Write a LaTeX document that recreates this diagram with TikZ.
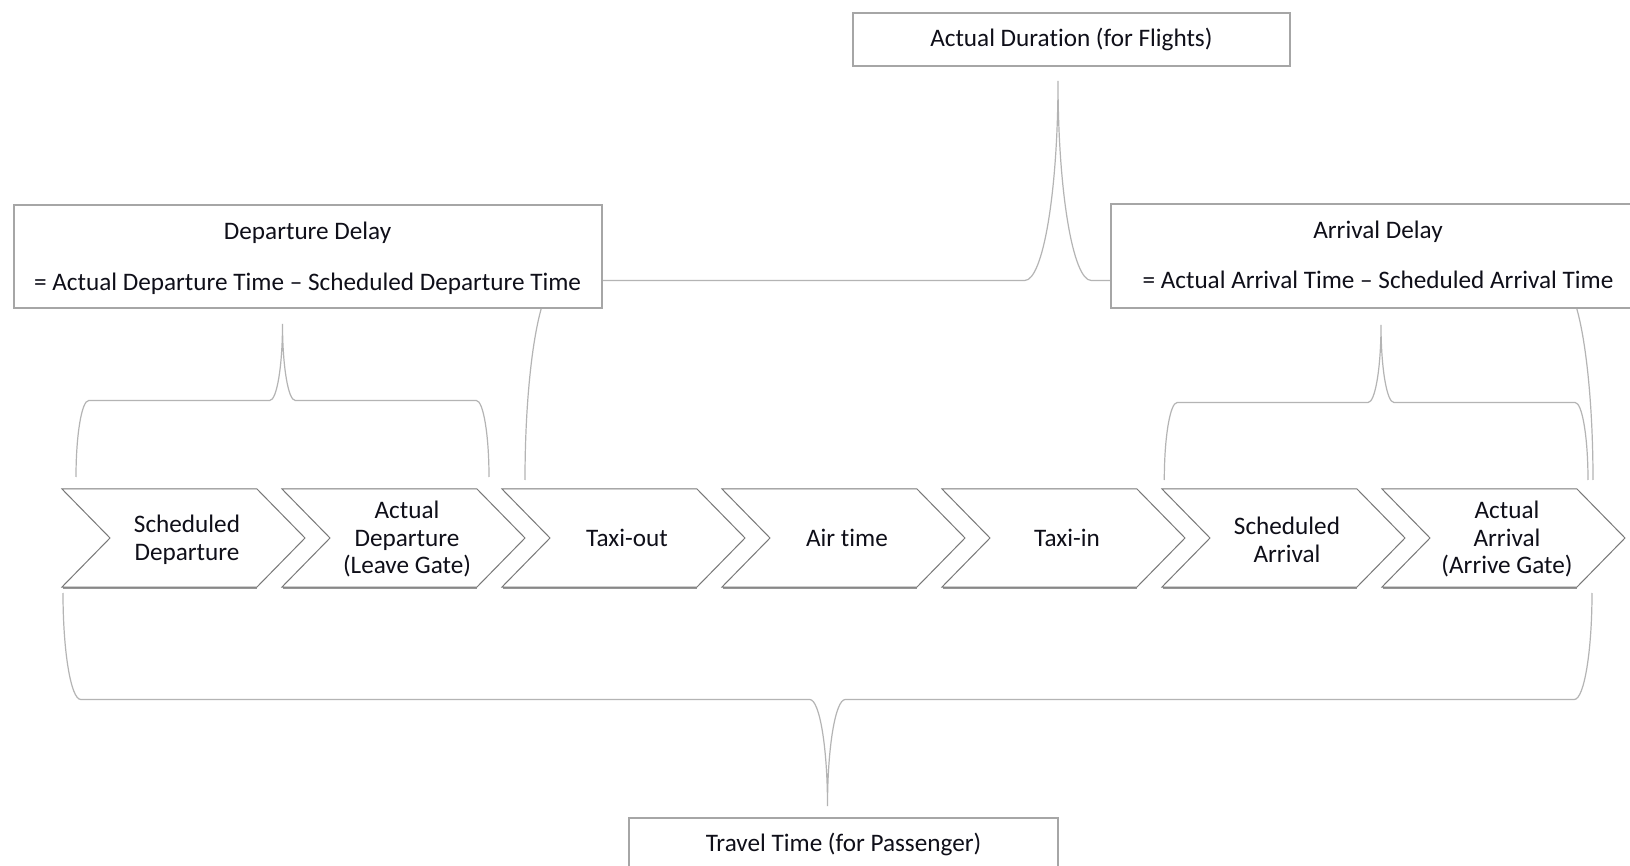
\documentclass[tikz,border=0pt]{standalone}
\usepackage{fontspec}
\setmainfont{Carlito}[Ligatures={NoCommon,NoRare,NoDiscretionary}]
\usetikzlibrary{calc}
\definecolor{boxgray}{RGB}{166,166,166}
\definecolor{bracegray}{RGB}{180,180,180}
\definecolor{chevgray}{RGB}{120,120,120}
\definecolor{shadowgray}{RGB}{150,150,150}
\definecolor{txt}{RGB}{15,15,25}
\tikzset{
  lbl/.style={align=center, font=\fontsize{12.6}{13.75}\selectfont, text=txt, inner sep=0pt},
  boxst/.style={lbl, draw=boxgray, line width=1pt, fill=white},
  bracest/.style={draw=bracegray, line width=0.6pt},
  chevst/.style={draw=chevgray, line width=0.5pt, fill=white, line join=miter},
  chevshadow/.style={draw=shadowgray, line width=1.1pt}
}
% #1 name, #2 left x, #3 text y, #4 text
\newcommand\chevron[4]{%
  \draw[chevshadow] ({#2+1},588) -- ({#2+195},588);
  \filldraw[chevst] (#2,489) -- ++(195,0) -- ++(48,49) -- ++(-48,49) -- ++(-195,0) -- ++(48,-49) -- cycle;
  \node[lbl] (#1) at ({#2+125},#3) {#4};
}
\newcommand\curlybrace[3]{%
  \draw[bracest] let \p1=(#1), \p2=(#2), \p3=(#3),
     \n1={0.5*(\y1+\y3)}, \n2={0.08333*abs(\y1-\y3)}, \n3={0.5523} in
   (\p1) .. controls ({\x1},{\y1+\n3*(\n1-(\y1))}) and ({\x1+\n2*(1-\n3)},{\n1*1pt}) .. ({\x1+\n2},{\n1*1pt})
   -- ({\x3-\n2},{\n1*1pt})
   .. controls ({\x3-\n2*(1-\n3)},{\n1*1pt}) and ({\x3},{\y3+\n3*(\n1-(\y3))}) .. (\p3)
   .. controls ({\x3},{\y3+\n3*(\n1-(\y3))}) and ({\x3+\n2*(1-\n3)},{\n1*1pt}) .. ({\x3+\n2},{\n1*1pt})
   -- ({\x2-\n2},{\n1*1pt})
   .. controls ({\x2-\n2*(1-\n3)},{\n1*1pt}) and ({\x2},{\y2+\n3*(\n1-(\y2))}) .. (\p2);
}
\begin{document}
\begin{tikzpicture}[x=0.5pt, y=-0.5pt]
\useasboundingbox (0,0) rectangle (1630,866);
\clip (0,0) rectangle (1630,866);
\fill[white] (0,0) rectangle (1630,866);

% brace end points and tips
\coordinate (dd1) at (76,477);
\coordinate (dd2) at (489,477);
\coordinate (ddt) at (282.5,324);
\coordinate (ad1) at (1164.3,480);
\coordinate (ad2) at (1588,480);
\coordinate (adt) at (1381,325);
\coordinate (fl1) at (525,480);
\coordinate (fl2) at (1593,480);
\coordinate (flt) at (1058,81);
\coordinate (tt1) at (63,593);
\coordinate (tt2) at (1592,593);
\coordinate (ttt) at (827.5,806);

\curlybrace{fl1}{fl2}{flt}
\curlybrace{dd1}{dd2}{ddt}
\curlybrace{ad1}{ad2}{adt}
\curlybrace{tt1}{tt2}{ttt}

% boxes
\node[boxst, minimum width=218.6pt, minimum height=26.5pt] (fl) at (1071.4,39.2) {Actual Duration (for Flights)};
\node[boxst, minimum width=294pt, minimum height=51.5pt] (dep) at (307.6,256.5) {};
\node[lbl] (deptxt) at ([yshift=-1pt]dep.center) {Departure Delay\\[11.75pt]= Actual Departure Time – Scheduled Departure Time};
\node[boxst, minimum width=267pt, minimum height=52pt] (arr) at (1378,256) {};
\node[lbl] (arrtxt) at ([yshift=0.75pt]arr.center) {Arrival Delay\\[11.25pt]= Actual Arrival Time – Scheduled Arrival Time};
\node[boxst, minimum width=214.5pt, minimum height=26.5pt] (trav) at (843.5,844.2) {Travel Time (for Passenger)};

% chevrons
\chevron{c1}{62}{540}{Scheduled\\Departure}
\chevron{c2}{282}{539}{Actual\\Departure\\(Leave Gate)}
\chevron{c3}{502}{538}{Taxi-out}
\chevron{c4}{722}{538}{Air time}
\chevron{c5}{942}{538}{Taxi-in}
\chevron{c6}{1162}{540}{Scheduled\\Arrival}
\chevron{c7}{1382}{539}{Actual\\Arrival\\(Arrive Gate)}
\end{tikzpicture}
\end{document}
